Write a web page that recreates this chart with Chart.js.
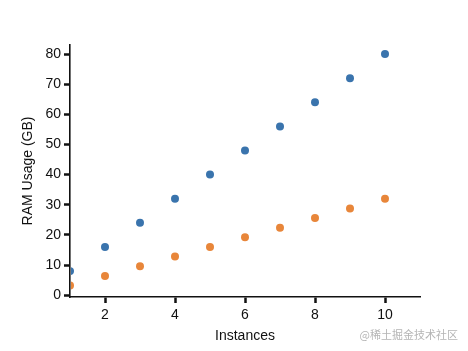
<!DOCTYPE html>
<html>
<head>
<meta charset="utf-8">
<script src="https://cdn.jsdelivr.net/npm/chart.js@4/dist/chart.umd.min.js"></script>
<style>
  html, body { margin: 0; padding: 0; background: #fff; }
  #wrap { width: 468px; height: 351px; }
</style>
</head>
<body>
<div id="wrap"><canvas id="ramChart"></canvas></div>
<script>
const instances = [1, 2, 3, 4, 5, 6, 7, 8, 9, 10];
const ramHigh = [8, 16, 24, 32, 40, 48, 56, 64, 72, 80];
const ramLow = [3.2, 6.4, 9.6, 12.8, 16, 19.2, 22.4, 25.6, 28.8, 32];
const xTickValues = [2, 4, 6, 8, 10];
const yTickValues = [0, 10, 20, 30, 40, 50, 60, 70, 80];

const fontFamily = "'Liberation Sans', 'DejaVu Sans', sans-serif";

const watermark = {
    id: 'watermark',
    afterDraw(chart) {
        const ctx = chart.ctx;
        ctx.save();
        ctx.font = '11px "Noto Sans CJK SC", sans-serif';
        ctx.fillStyle = '#b5b5b5';
        ctx.textAlign = 'right';
        ctx.textBaseline = 'middle';
        ctx.fillText('@稀土掘金技术社区', 458, 335);
        ctx.restore();
    }
};

// clip the points that sit on the left spine, like the original
const clipLeft = { left: -1, top: false, right: false, bottom: false };

const canvasElementForScatter = document.getElementById('ramChart');

let configScatter = {
    type: 'scatter',
    data: {
        datasets: [
            {
                label: 'high',
                data: instances.map((x, i) => ({ x: x, y: ramHigh[i] })),
                backgroundColor: '#3a74ad',
                pointRadius: 4,
                pointBorderWidth: 0,
                clip: clipLeft,
            },
            {
                label: 'low',
                data: instances.map((x, i) => ({ x: x, y: ramLow[i] })),
                backgroundColor: '#e8863a',
                pointRadius: 4,
                pointBorderWidth: 0,
                clip: clipLeft,
            },
        ],
    },
    options: {
        responsive: true,
        maintainAspectRatio: false,
        animation: false,
        layout: { padding: { top: 45, right: 48, left: 20, bottom: 0 } },
        plugins: {
            legend: { display: false },
            tooltip: { enabled: false },
        },
        scales: {
            x: {
                type: 'linear',
                min: 1,
                max: 11,
                afterBuildTicks(scale) {
                    scale.ticks = xTickValues.map(v => ({ value: v }));
                },
                afterFit(scale) { scale.height = 54; },
                border: { display: true, color: '#111', width: 1.6 },
                grid: {
                    drawOnChartArea: false,
                    drawTicks: true,
                    tickLength: 6,
                    tickWidth: 2.5,
                    tickColor: '#111',
                },
                ticks: {
                    color: '#111',
                    font: { family: fontFamily, size: 14 },
                    padding: 4,
                },
                title: {
                    display: true,
                    text: 'Instances',
                    color: '#111',
                    font: { family: fontFamily, size: 14 },
                    padding: { top: 0, bottom: 6 },
                },
            },
            y: {
                min: -0.6,
                max: 83,
                afterBuildTicks(scale) {
                    scale.ticks = yTickValues.map(v => ({ value: v }));
                },
                afterFit(scale) { scale.width = 50; },
                border: { display: true, color: '#111', width: 1.6 },
                grid: {
                    drawOnChartArea: false,
                    drawTicks: true,
                    tickLength: 6,
                    tickWidth: 2.5,
                    tickColor: '#111',
                },
                ticks: {
                    color: '#111',
                    font: { family: fontFamily, size: 14 },
                    padding: 3,
                },
                title: {
                    display: true,
                    text: 'RAM Usage (GB)',
                    color: '#111',
                    font: { family: fontFamily, size: 14 },
                    padding: { top: 0, bottom: 2 },
                },
            },
        },
    },
    plugins: [watermark],
};
const scatterChart = new Chart(canvasElementForScatter, configScatter);
</script>
</body>
</html>
